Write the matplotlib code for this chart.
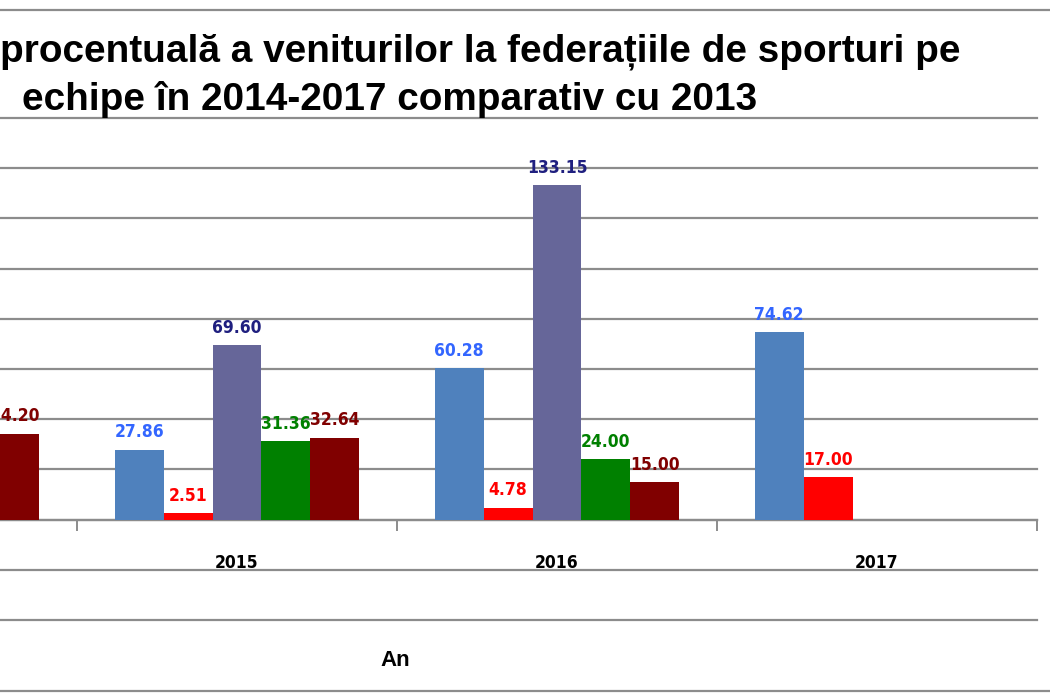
import numpy as np
import matplotlib
matplotlib.use("Agg")
import matplotlib.pyplot as plt
from matplotlib.lines import Line2D

# ---- data ----
years = ["2014", "2015", "2016", "2017"]
series_1 = [np.nan, 27.86, 60.28, 74.62]
series_2 = [np.nan, 2.51, 4.78, 17.00]
series_3 = [np.nan, 69.60, 133.15, np.nan]
series_4 = [np.nan, 31.36, 24.00, np.nan]
series_5 = [34.20, 32.64, 15.00, np.nan]

title_line1 = "procentuală a veniturilor la federațiile de sporturi pe"
title_line2 = "echipe în 2014-2017 comparativ cu 2013"
x_title = "An"

bar_colors = ["#4F81BD", "#FF0000", "#666699", "#008000", "#800000"]
label_colors = ["#3366FF", "#FF0000", "#1F1F7F", "#008000", "#800000"]

W, H = 1050, 700
fig = plt.figure(figsize=(W / 100, H / 100), dpi=100)
fig.patch.set_facecolor("white")

lab_font = dict(family="DejaVu Sans", fontweight="bold", fontstretch="condensed", fontsize=12.5)

# plot area (partly outside the left edge, as in the cropped reference)
ax = fig.add_axes([-243 / W, 80 / H, 1280 / W, 502 / H])
ax.set_facecolor("none")
ax.set_xlim(-0.5, 3.5)
ax.set_ylim(-40, 160)

x = np.arange(len(years))
bw = 0.153
all_series = [series_1, series_2, series_3, series_4, series_5]
for i, vals in enumerate(all_series):
    pos = x + (i - 2) * bw
    v = np.array(vals, dtype=float)
    ax.bar(pos, v, width=bw, color=bar_colors[i], zorder=3, linewidth=0)
    for p, val in zip(pos, v):
        if np.isnan(val):
            continue
        ax.annotate(f"{val:.2f}", xy=(p, val), xytext=(0, 6), textcoords="offset points",
                    ha="center", va="bottom", color=label_colors[i], zorder=4, **lab_font)

# grid
ax.set_yticks(np.arange(-40, 161, 20))
ax.yaxis.grid(True, color="#8C8C8C", linewidth=1.6, zorder=0)
for gl in ax.get_ygridlines():
    gl.set_clip_on(False)
ax.tick_params(axis="y", left=False, labelleft=False)

for s in ["left", "right", "top"]:
    ax.spines[s].set_visible(False)
ax.spines["bottom"].set_position(("data", 0))
ax.spines["bottom"].set_color("#8C8C8C")
ax.spines["bottom"].set_linewidth(1.6)

ax.set_xticks(x)
ax.set_xticklabels(years, **lab_font)
ax.set_xticks(np.arange(-0.5, 3.6, 1), minor=True)
ax.tick_params(axis="x", which="major", length=0, pad=25)
ax.tick_params(axis="x", which="minor", length=8, width=1.4, color="#8C8C8C", direction="out")

fig.text(395 / W, 1 - 661 / H, x_title, ha="center", va="center",
         fontsize=16, fontweight="bold", family="Liberation Sans")

# title
fig.text(0 / W, 1 - 62 / H, title_line1, ha="left", va="baseline",
         fontsize=27.9, fontweight="bold", family="Liberation Sans")
fig.text(22 / W, 1 - 110 / H, title_line2, ha="left", va="baseline",
         fontsize=27.9, fontweight="bold", family="Liberation Sans")

# chart border lines
fig.add_artist(Line2D([0, 1], [1 - 10 / H, 1 - 10 / H], transform=fig.transFigure,
                      color="#8C8C8C", linewidth=1.6))
fig.add_artist(Line2D([0, 1], [1 - 691 / H, 1 - 691 / H], transform=fig.transFigure,
                      color="#8C8C8C", linewidth=1.6))

fig.savefig("out.png", dpi=100)
